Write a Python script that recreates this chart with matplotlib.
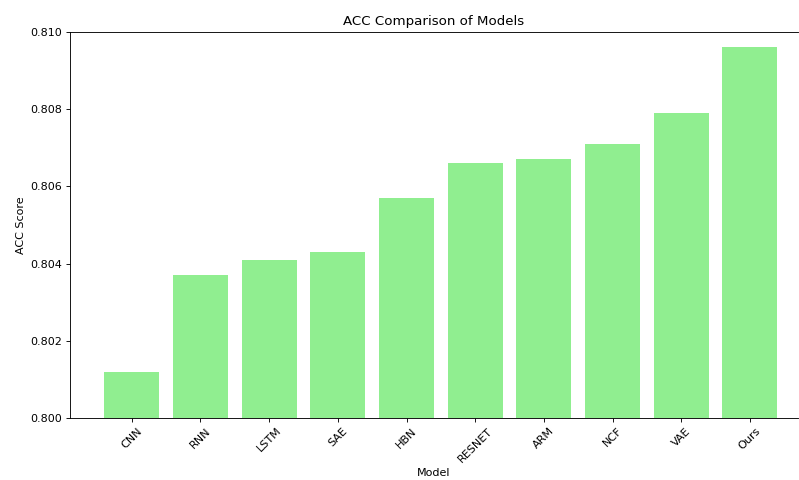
import matplotlib
matplotlib.use('Agg')
import matplotlib.pyplot as plt

modelos = ['CNN', 'RNN', 'LSTM', 'SAE', 'HBN', 'RESNET', 'ARM', 'NCF', 'VAE', 'Ours']
acc = [0.8012, 0.8037, 0.8041, 0.8043, 0.8057, 0.8066, 0.8067, 0.8071, 0.8079, 0.8096]

fig = plt.figure(figsize=(799 / 80, 6), dpi=80)
ax = fig.add_axes([70 / 799, 62 / 480, 728 / 799, 386 / 480])
ax.bar(modelos, acc, color='lightgreen', width=0.8)
ax.set_ylim(0.800, 0.810)
ax.set_xlim(-0.9, 9.7)
ax.set_title('ACC Comparison of Models')
ax.set_xlabel('Model')
ax.set_ylabel('ACC Score')
ax.tick_params(axis='x', rotation=45)
ax.spines['right'].set_visible(False)

fig.savefig('out.png', dpi=80)
